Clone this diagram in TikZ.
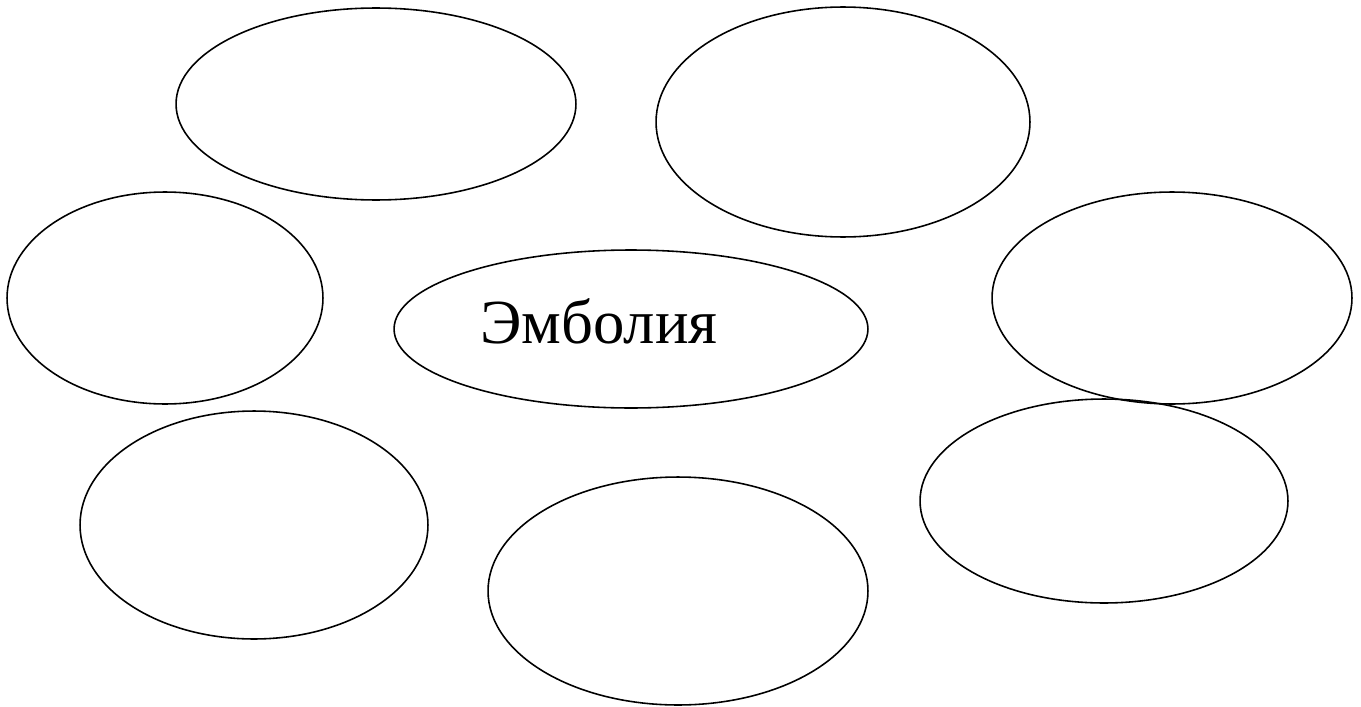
\documentclass[tikz,border=0pt]{standalone}
\usepackage{fontspec}
\setmainfont{Liberation Serif}
\usetikzlibrary{shapes.geometric}

\begin{document}
\begin{tikzpicture}[
    oval/.style={draw,ellipse,line width=0.9pt,inner sep=0pt},
    x=0.02cm,y=-0.02cm
]
\useasboundingbox (0,0) rectangle (1361,706);
% ovals around the centre
\node[oval,minimum width=8cm,minimum height=3.84cm] (ovtl) at (376,104) {};
\node[oval,minimum width=7.48cm,minimum height=4.6cm] (ovtr) at (843,122) {};
\node[oval,minimum width=6.32cm,minimum height=4.24cm] (ovl) at (165,298) {};
\node[oval,minimum width=7.2cm,minimum height=4.24cm] (ovr) at (1172,298) {};
\node[oval,minimum width=6.96cm,minimum height=4.56cm] (ovbl) at (254,525) {};
\node[oval,minimum width=7.6cm,minimum height=4.56cm] (ovb) at (678,591) {};
\node[oval,minimum width=7.36cm,minimum height=4.08cm] (ovbr) at (1104,501) {};
% centre
\node[oval,minimum width=9.48cm,minimum height=3.16cm] (ovc) at (631,329) {};
\node[font=\fontsize{35.7}{38}\selectfont,anchor=base] (emb) at (599,343) {Эмболия};
\end{tikzpicture}
\end{document}
